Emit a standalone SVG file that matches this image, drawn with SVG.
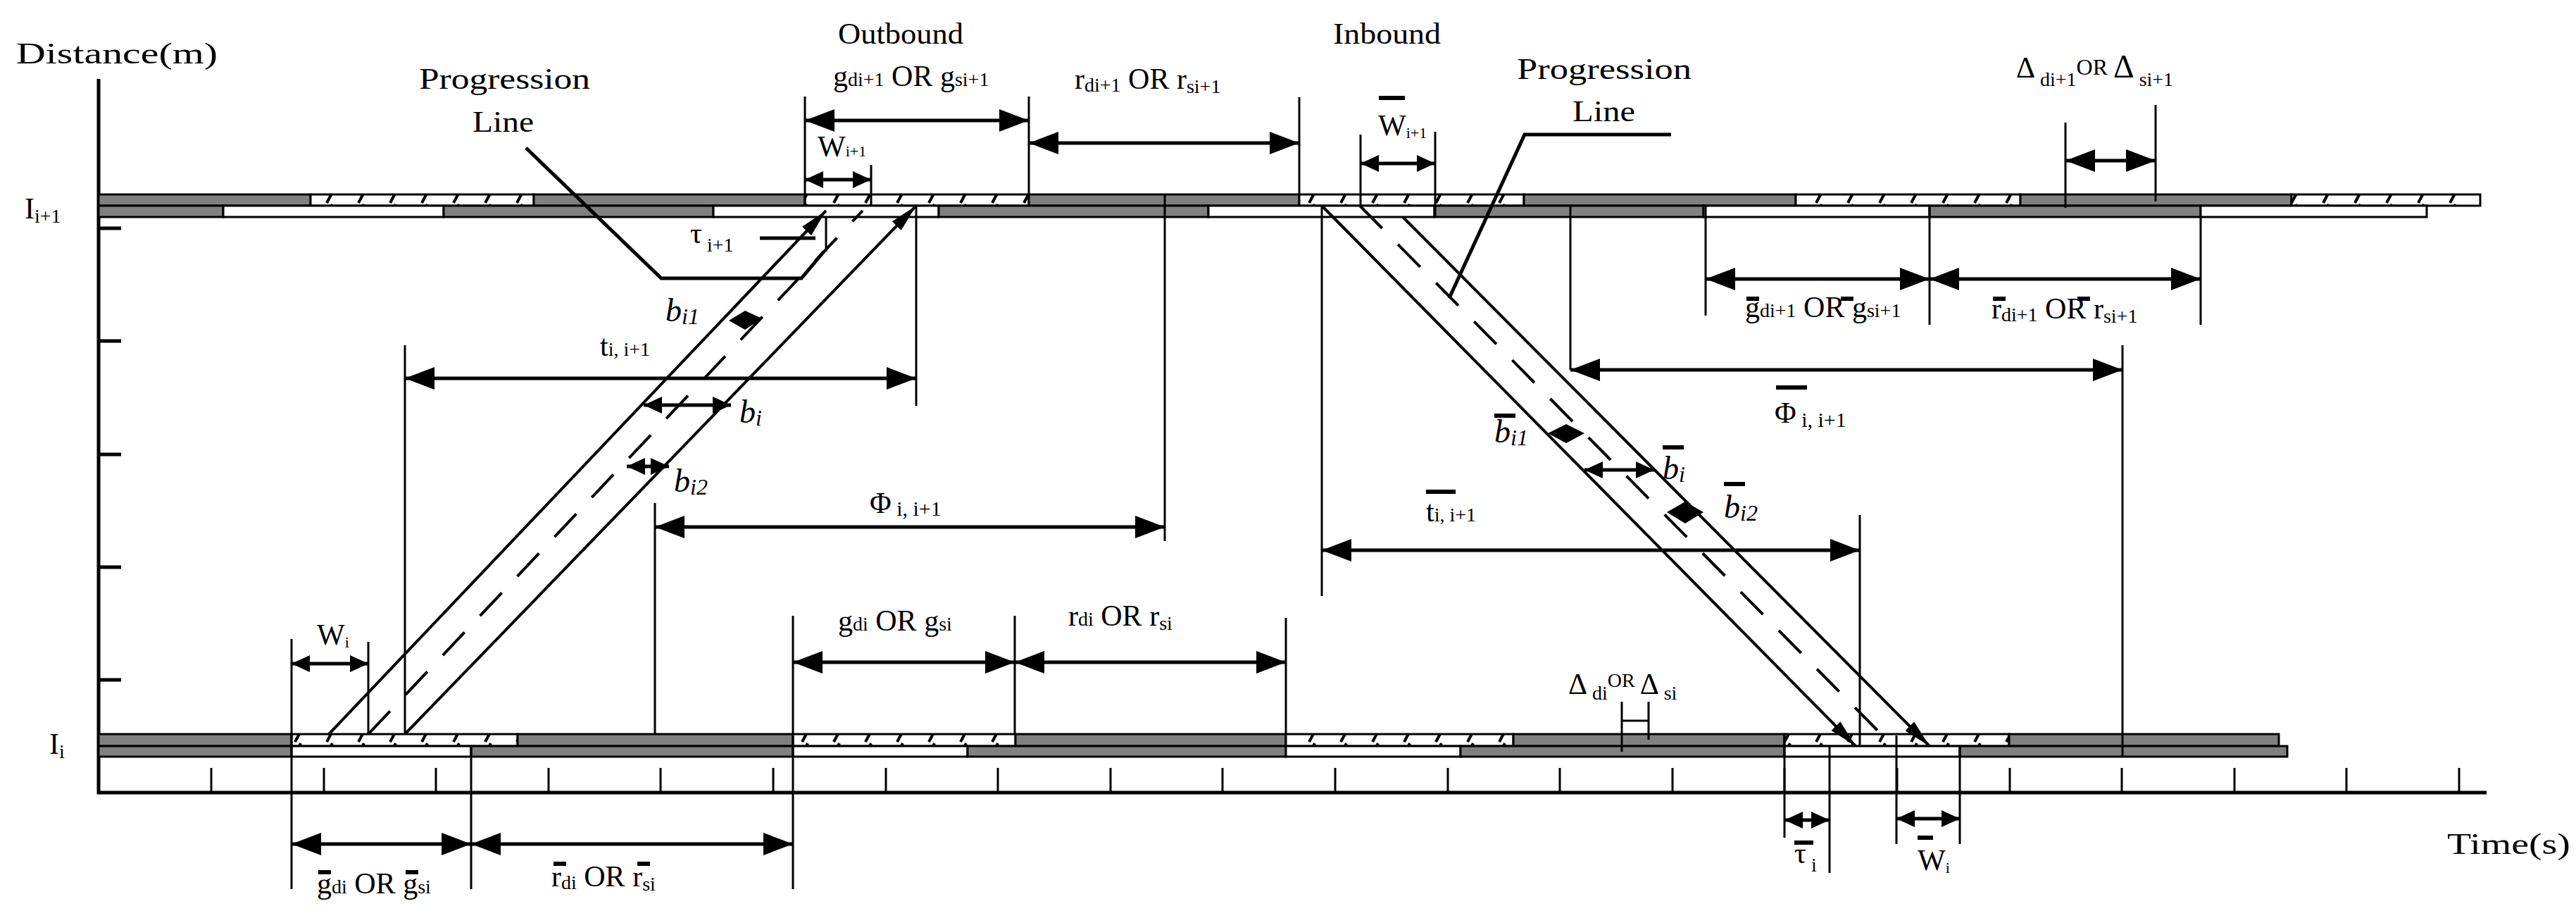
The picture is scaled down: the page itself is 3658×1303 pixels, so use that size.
<svg xmlns="http://www.w3.org/2000/svg" width="3658" height="1303" viewBox="0 0 3658 1303">
<defs>
<pattern id="hatch" patternUnits="userSpaceOnUse" width="45" height="17" x="0" y="0">
<rect width="45" height="17" fill="#fff"/>
<path d="M14,16 L22,1" stroke="#000" stroke-width="4"/>
</pattern>
<marker id="ah" markerUnits="userSpaceOnUse" markerWidth="42" markerHeight="32" refX="42" refY="16" orient="auto-start-reverse" viewBox="0 0 42 32"><path d="M0,0 L42,16 L0,32 z" fill="#000"/></marker>
<marker id="as" markerUnits="userSpaceOnUse" markerWidth="26" markerHeight="24" refX="26" refY="12" orient="auto-start-reverse" viewBox="0 0 26 24"><path d="M0,0 L26,12 L0,24 z" fill="#000"/></marker>
<marker id="ad" markerUnits="userSpaceOnUse" markerWidth="40" markerHeight="18" refX="40" refY="9" orient="auto" viewBox="0 0 40 18"><path d="M0,0 L40,9 L0,18 z" fill="#000"/></marker>
</defs>
<style>
.d{fill:#808080;stroke:#000;stroke-width:3}
.w{fill:#fff;stroke:#000;stroke-width:3}
.h{fill:url(#hatch);stroke:#000;stroke-width:3}
.ln{stroke:#000;stroke-width:3;fill:none}
.ax{stroke:#000;stroke-width:5;fill:none}
.dim{stroke:#000;stroke-width:5;fill:none;marker-start:url(#ah);marker-end:url(#ah)}
.sm{stroke:#000;stroke-width:5;fill:none;marker-start:url(#as);marker-end:url(#as)}
.dg{stroke:#000;stroke-width:4;fill:none}
.ob{stroke:#000;stroke-width:6}
text{font-family:"Liberation Serif","Times New Roman",serif;fill:#000;font-size:42px}
.s{font-size:28px}
.it{font-style:italic;font-size:46px}
</style>
<g id="axes">
<path class="ax" d="M140,112 V1125 H3531"/>
<path class="ax" d="M140,324 h32 M140,484 h32 M140,645 h32 M140,805 h32 M140,965 h32"/>
<path class="ln" d="M300,1090V1125 M460,1090V1125 M619,1090V1125 M779,1090V1125 M938,1090V1125 M1098,1090V1125 M1258,1090V1125 M1417,1090V1125 M1577,1090V1125 M1736,1090V1125 M1896,1090V1125 M2056,1090V1125 M2215,1090V1125 M2375,1090V1125 M2534,1090V1125 M2694,1090V1125 M2854,1090V1125 M3013,1090V1125 M3173,1090V1125 M3332,1090V1125 M3492,1090V1125"/>
<text x="23" y="90" textLength="286" lengthAdjust="spacingAndGlyphs" font-size="46">Distance(m)</text>
<text x="3475" y="1212" textLength="175" lengthAdjust="spacingAndGlyphs" font-size="46">Time(s)</text>
<text x="35" y="310">I<tspan class="s" dy="6">i+1</tspan></text>
<text x="70" y="1070">I<tspan class="s" dy="6">i</tspan></text>
</g>
<g id="upper-band">
<rect class="d" x="140" y="276" width="301" height="16"/><rect class="h" x="441" y="276" width="317" height="16"/><rect class="d" x="758" y="276" width="385" height="16"/><rect class="h" x="1143" y="276" width="318" height="16"/><rect class="d" x="1461" y="276" width="384" height="16"/><rect class="h" x="1845" y="276" width="319" height="16"/><rect class="d" x="2164" y="276" width="386" height="16"/><rect class="h" x="2550" y="276" width="319" height="16"/><rect class="d" x="2869" y="276" width="385" height="16"/><rect class="h" x="3254" y="276" width="268" height="16"/>
<rect class="d" x="140" y="292" width="177" height="16"/><rect class="w" x="317" y="292" width="313" height="16"/><rect class="d" x="630" y="292" width="383" height="16"/><rect class="w" x="1013" y="292" width="320" height="16"/><rect class="d" x="1333" y="292" width="383" height="16"/><rect class="w" x="1716" y="292" width="321" height="16"/><rect class="d" x="2037" y="292" width="382" height="16"/><rect class="w" x="2419" y="292" width="321" height="16"/><rect class="d" x="2740" y="292" width="385" height="16"/><rect class="w" x="3125" y="292" width="321" height="16"/>
</g>
<g id="lower-band">
<rect class="d" x="140" y="1042" width="274" height="17"/><rect class="h" x="414" y="1042" width="321" height="17"/><rect class="d" x="735" y="1042" width="391" height="17"/><rect class="h" x="1126" y="1042" width="316" height="17"/><rect class="d" x="1442" y="1042" width="384" height="17"/><rect class="h" x="1826" y="1042" width="323" height="17"/><rect class="d" x="2149" y="1042" width="385" height="17"/><rect class="h" x="2534" y="1042" width="319" height="17"/><rect class="d" x="2853" y="1042" width="383" height="17"/>
<rect class="d" x="140" y="1059" width="274" height="15"/><rect class="w" x="414" y="1059" width="255" height="15"/><rect class="d" x="669" y="1059" width="457" height="15"/><rect class="w" x="1126" y="1059" width="248" height="15"/><rect class="d" x="1374" y="1059" width="452" height="15"/><rect class="w" x="1826" y="1059" width="248" height="15"/><rect class="d" x="2074" y="1059" width="460" height="15"/><rect class="w" x="2534" y="1059" width="249" height="15"/><rect class="d" x="2783" y="1059" width="465" height="15"/>
</g>
<g id="outbound-band">
<path class="dg" d="M467,1042 L1173,299" marker-end="url(#ad)"/>
<path class="dg" d="M575,1042 L1301,292" marker-end="url(#ad)"/>
<path class="dg" d="M523,1042 L1225,299" stroke-dasharray="45,32"/>
</g>
<g id="inbound-band">
<path class="dg" d="M1877,292 L2635,1059" marker-end="url(#ad)"/>
<path class="dg" d="M1992,308 L2740,1059" marker-end="url(#ad)"/>
<path class="dg" d="M1931,292 L2688,1059" stroke-dasharray="45,32"/>
</g>
<g id="connectors">
<path class="ln" d="M1143,137V292 M1461,137V276 M1845,138V276 M1237,234V292 M1173,307V357 M1301,292V576 M1654,276V768 M575,490V1042 M930,714V1042 M414,907V1262 M523,911V1042 M669,1059V1262 M1126,874V1262 M1441,874V1042 M1826,877V1042"/>
<path class="ln" d="M1932,191V292 M2038,187V308 M1877,292V846 M2230,292V525 M3014,490V1075 M2422,292V448 M2740,292V461 M3125,308V461 M2933,174V295 M3061,149V286 M2641,731V1059 M2303,996V1067 M2341,996V1050 M2303,1023H2341 M2534,1042V1189 M2598,1059V1239 M2693,1044V1198 M2783,1059V1198"/>
<path class="ax" d="M747,210 L939,395 H1138 L1170,357"/>
<path class="ax" d="M1079,338 H1158"/>
<path class="ax" d="M2373,191 H2165 L2058,423"/>
<path class="dim" d="M1143,171H1461"/>
<path class="dim" d="M1461,203H1845"/>
<path class="dim" d="M575,537H1301"/>
<path class="dim" d="M930,748H1654"/>
<path class="dim" d="M1126,940H1441"/>
<path class="dim" d="M1441,940H1826"/>
<path class="dim" d="M414,1198H669"/>
<path class="dim" d="M669,1198H1126"/>
<path class="dim" d="M2422,396H2740"/>
<path class="dim" d="M2740,396H3125"/>
<path class="dim" d="M2230,525H3014"/>
<path class="dim" d="M1877,781H2641"/>
<path class="dim" d="M2933,228H3061"/>
<path class="sm" d="M1143,255H1237"/>
<path class="sm" d="M914,575H1038"/>
<path class="sm" d="M890,662H950"/>
<path class="sm" d="M414,942H523"/>
<path class="sm" d="M1932,232H2038"/>
<path class="sm" d="M2250,667H2349"/>
<path class="sm" d="M2534,1164H2598"/>
<path class="sm" d="M2693,1162H2783"/>
<path d="M1035,455 L1058,441 L1082,452 L1058,468 z" fill="#000"/>
<path d="M2198,615 L2224,602 L2250,615 L2224,629 z" fill="#000"/>
<path d="M2367,727 L2393,712 L2419,727 L2393,743 z" fill="#000"/>
</g>
<g id="labels">
<text x="1190" y="62" textLength="178" lengthAdjust="spacingAndGlyphs">Outbound</text>
<text x="1893" y="62" textLength="153" lengthAdjust="spacingAndGlyphs">Inbound</text>
<text x="595" y="126" textLength="243" lengthAdjust="spacingAndGlyphs">Progression</text>
<text x="671" y="187" textLength="87" lengthAdjust="spacingAndGlyphs">Line</text>
<text x="2154" y="112" textLength="248" lengthAdjust="spacingAndGlyphs">Progression</text>
<text x="2233" y="172" textLength="89" lengthAdjust="spacingAndGlyphs">Line</text>
<text x="1183" y="122">g<tspan class="s">di+1</tspan><tspan> OR g</tspan><tspan class="s">si+1</tspan></text>
<text x="1526" y="126">r<tspan class="s" dy="4">di+1</tspan><tspan dy="-4"> OR r</tspan><tspan class="s" dy="6">si+1</tspan></text>
<text x="1161" y="222" font-size="30">W<tspan font-size="22">i+1</tspan></text>
<text x="1957" y="192" font-size="30">W<tspan font-size="22" dy="4">i+1</tspan></text>
<text x="980" y="345">τ<tspan class="s" dy="12"> i+1</tspan></text>
<text class="it" x="945" y="456">b<tspan font-size="32" dy="4">i1</tspan></text>
<text class="it" x="1050" y="600">b<tspan font-size="32" dy="4">i</tspan></text>
<text class="it" x="957" y="698">b<tspan font-size="32" dy="4">i2</tspan></text>
<text x="852" y="505">t<tspan class="s">i, i+1</tspan></text>
<text x="1235" y="728" font-size="46">Φ<tspan font-size="30" dy="4"> i, i+1</tspan></text>
<text x="450" y="915" font-size="32">W<tspan font-size="22" dy="4">i</tspan></text>
<text x="1190" y="895">g<tspan class="s">di</tspan><tspan> OR g</tspan><tspan class="s">si</tspan></text>
<text x="1517" y="888">r<tspan class="s">di</tspan><tspan> OR r</tspan><tspan class="s" dy="6">si</tspan></text>
<text x="450" y="1268">g<tspan class="s">di</tspan><tspan> OR g</tspan><tspan class="s">si</tspan></text>
<text x="783" y="1258">r<tspan class="s" dy="4">di</tspan><tspan dy="-4"> OR r</tspan><tspan class="s" dy="6">si</tspan></text>
<text x="2863" y="110" font-size="46">Δ<tspan class="s" dy="12"> di+1</tspan><tspan dy="-16" font-size="32">OR </tspan><tspan dy="4" font-size="46">Δ</tspan><tspan class="s" dy="12"> si+1</tspan></text>
<text x="2478" y="450">g<tspan class="s">di+1</tspan><tspan> OR g</tspan><tspan class="s">si+1</tspan></text>
<text x="2828" y="452">r<tspan class="s" dy="4">di+1</tspan><tspan dy="-4"> OR r</tspan><tspan class="s" dy="6">si+1</tspan></text>
<text x="2520" y="600" font-size="46">Φ<tspan font-size="30" dy="6"> i, i+1</tspan></text>
<text class="it" x="2122" y="628">b<tspan font-size="32" dy="4">i1</tspan></text>
<text class="it" x="2361" y="680">b<tspan font-size="32" dy="4">i</tspan></text>
<text class="it" x="2448" y="735">b<tspan font-size="32" dy="4">i2</tspan></text>
<text x="2025" y="740">t<tspan class="s">i, i+1</tspan></text>
<text x="2227" y="985" font-size="42">Δ<tspan class="s" dy="8"> di</tspan><tspan dy="-18" font-size="28">OR </tspan><tspan dy="10" font-size="42">Δ</tspan><tspan class="s" dy="8"> si</tspan></text>
<text x="2548" y="1225">τ<tspan class="s" dy="12"> i</tspan></text>
<text x="2723" y="1235" font-size="32">W<tspan font-size="22" dy="4">i</tspan></text>
</g>
<g id="overbars">
<path class="ob" d="M1958,139H1995 M2522,550H2566 M2122,590H2152 M2361,635H2391 M2448,687H2478 M2025,698H2067 M2548,1196H2575 M2723,1189H2745 M452,1238H470 M576,1238H594 M786,1226H804 M905,1226H923 M2480,424H2498 M2614,424H2632 M2830,424H2848 M2950,424H2968"/>
</g>
</svg>
